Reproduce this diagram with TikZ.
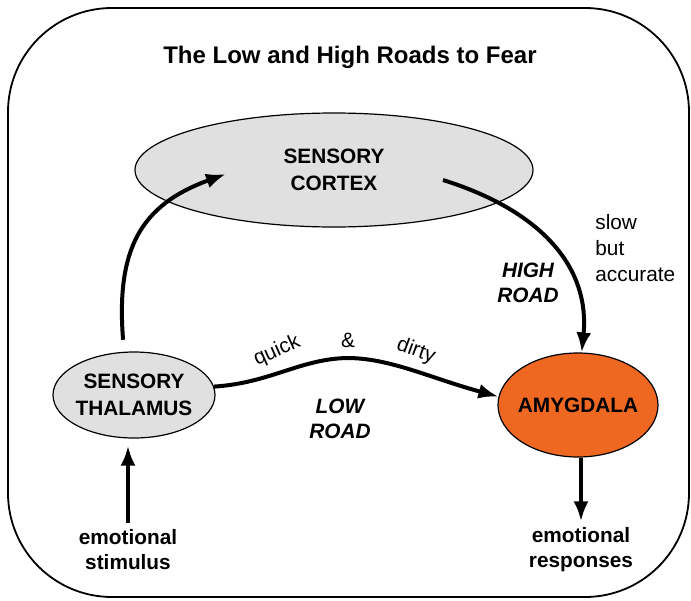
\documentclass[tikz,border=0pt]{standalone}
\usepackage{fontspec}
\setmainfont{Liberation Sans}
\usetikzlibrary{shapes.geometric,arrows.meta}
\definecolor{cortexgray}{RGB}{224,224,224}
\definecolor{amygorange}{RGB}{238,104,34}

\begin{document}
\begin{tikzpicture}[x=0.5pt,y=-0.5pt,
    >={Latex[length=10pt,width=7.5pt]},
    region/.style={ellipse,draw,line width=0.6pt,fill=cortexgray,inner xsep=-2pt,inner ysep=0pt,
      align=center,font=\fontsize{10.4}{13.5}\selectfont\bfseries},
    tract/.style={->,line width=2pt},
    endpoint/.style={align=center,inner sep=1pt,font=\fontsize{10.4}{12.5}\selectfont\bfseries},
    road/.style={align=center,font=\fontsize{10.4}{12.5}\selectfont\bfseries\itshape},
    note/.style={inner sep=0pt,font=\fontsize{10.4}{12.8}\selectfont}]
  \useasboundingbox (0,0) rectangle (691,600);
  \draw[line width=0.9pt,rounded corners=52pt] (8,8) rectangle (689,597);

  % nodes
  \node (title) at (350,57) {\fontsize{12}{14}\selectfont\bfseries The Low and High Roads to Fear};
  \node (cortex) [region,minimum width=199pt,minimum height=57pt] at (334,170) {SENSORY\\CORTEX};
  \node (thal) [region,minimum width=81pt,minimum height=43pt] at (134,395) {SENSORY\\THALAMUS};
  \node (amyg) [region,fill=amygorange,minimum width=80pt,minimum height=52pt] at (578,405) {AMYGDALA};
  \node (stim) [endpoint] at (128,550) {emotional\\stimulus};
  \node (resp) [endpoint] at (581,550) {emotional\\responses};

  \coordinate (cin) at (226,174);
  \coordinate (cout) at (443,180);
  \coordinate (top) at (347,358);

  % labels
  \node (quick) [note,rotate=24] at (277,351) {quick};
  \node (amp) [note] at (348,340) {\&};
  \node (dirty) [note,rotate=-20] at (416,351) {dirty};
  \node (low) [road] at (340,419) {LOW\\ROAD};
  \node (high) [road] at (528,283) {HIGH\\ROAD};
  \node (slow) [note,align=left,anchor=west] at (595,248) {slow\\but\\accurate};

  % roads
  \draw[tract,shorten <=6pt] (thal.103) .. controls (116,250) and (140,205) .. (cin);
  \draw[tract] (cout) .. controls (545,212) and (590,270) .. (amyg.86);
  \draw[tract] (thal.6) .. controls (270,383) and (300,359) .. (top)
    .. controls (390,358) and (430,378) .. (amyg.174);
  \draw[tract,shorten >=3.5pt,shorten <=2pt] (stim.north) -- (stim.north |- thal.south);
  \draw[tract,shorten >=2pt] (amyg.south -| resp.north) -- (resp.north);
\end{tikzpicture}
\end{document}
